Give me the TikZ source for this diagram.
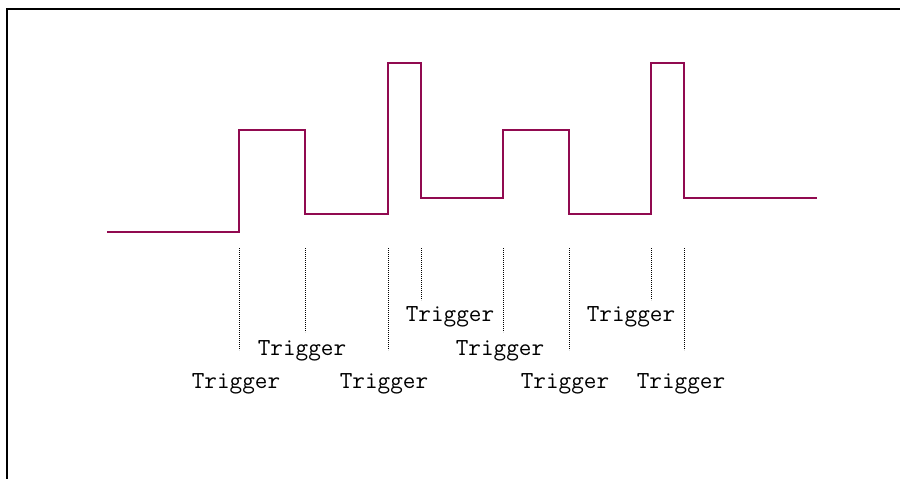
\documentclass[tikz,border=0pt]{standalone}
\definecolor{wave}{RGB}{145,10,80}
\begin{document}
\begin{tikzpicture}[x=1pt,y=-1pt,
  wavestyle/.style={draw=wave,line width=2pt,line join=miter},
  framestyle/.style={draw=black,line width=2.5pt},
  trigline/.style={draw=black,line width=1.3pt,dash pattern=on 1.2pt off 0.8pt},
  triglabel/.style={font=\ttfamily\fontsize{24.5}{27}\selectfont,anchor=base,inner sep=0pt}]
\useasboundingbox (0,0) rectangle (900,479);
% frame
\coordinate (fbl) at (7,479);
\coordinate (ftl) at (7,9);
\coordinate (ftr) at (900,9);
\draw[framestyle] (fbl) -- (ftl) -- (ftr);
% waveform
\draw[wavestyle] (107,232) -- (239.3,232) -- (239.3,130) -- (305,130) -- (305,214.3)
  -- (387.7,214.3) -- (387.7,62.7) -- (420.7,62.7) -- (420.7,197.7)
  -- (502.7,197.7) -- (502.7,130) -- (569,130) -- (569,214.3)
  -- (651,214.3) -- (651,62.7) -- (684,62.7) -- (684,197.7) -- (816.7,197.7);
% trigger lines
\foreach \n/\x/\e in {a/239.5/350, b/305.5/332, c/388.5/350, d/421.5/300,
                      e/503.5/332, f/569.5/350, g/651.5/300, h/684.5/350} {
  \coordinate (t\n) at (\x,248);
  \coordinate (b\n) at (\x,\e);
  \draw[trigline] (t\n) -- (b\n);
}
% labels
\node[triglabel] (la) at (236,388) {Trigger};
\node[triglabel] (lb) at (302,355) {Trigger};
\node[triglabel] (lc) at (384,388) {Trigger};
\node[triglabel] (ld) at (450,321) {Trigger};
\node[triglabel] (le) at (500,355) {Trigger};
\node[triglabel] (lf) at (565,388) {Trigger};
\node[triglabel] (lg) at (631,321) {Trigger};
\node[triglabel] (lh) at (681,388) {Trigger};
\end{tikzpicture}
\end{document}
